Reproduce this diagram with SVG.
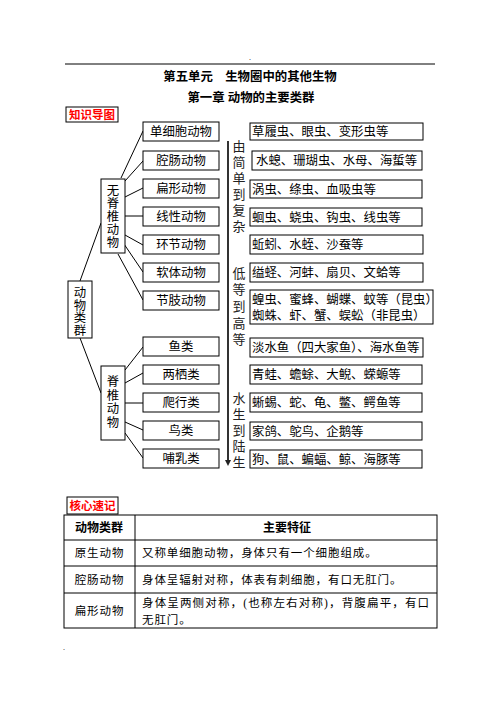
<svg xmlns="http://www.w3.org/2000/svg" width="501" height="711" viewBox="0 0 501 711">
<style>
text{font-family:"Liberation Serif","Noto Sans CJK SC",serif;fill:#000}
.t{font-size:12.4px}
.c{text-anchor:middle}
.b{font-weight:bold}
.red{fill:#f00;font-weight:bold;font-size:11.5px}
.v{font-size:13px;text-anchor:middle;fill:#222}
.tb{font-size:11.5px;letter-spacing:0.9px}
rect{fill:#fff;stroke:#000;stroke-width:1}
line{stroke:#000;stroke-width:1}
</style>
<defs>
<marker id="ah" markerWidth="8" markerHeight="8" refX="1" refY="3" orient="auto" markerUnits="userSpaceOnUse">
<path d="M0,0 L6,3 L0,6 Z" fill="#222"/>
</marker>
</defs>
<rect x="0" y="0" width="501" height="711" style="fill:#fff;stroke:none"/>
<text x="250" y="60" class="c" style="font-size:8px">.</text>
<line x1="65" y1="64" x2="435" y2="64"/>
<text x="250" y="81" class="t c b">第五单元　生物圈中的其他生物</text>
<text x="251" y="102" class="t c b">第一章 动物的主要类群</text>
<g id="zhishi"><rect x="66" y="107" width="52" height="15"/><text x="92" y="119" class="red c">知识导图</text></g>

<g id="connectors">
<line x1="121" y1="178" x2="143" y2="131"/>
<line x1="125" y1="181" x2="143" y2="161"/>
<line x1="125" y1="197" x2="143" y2="188"/>
<line x1="125" y1="216" x2="143" y2="216"/>
<line x1="125" y1="235" x2="143" y2="245"/>
<line x1="124" y1="244" x2="143" y2="272"/>
<line x1="118" y1="254" x2="143" y2="300"/>
<line x1="80" y1="281" x2="101" y2="223"/>
<line x1="80" y1="338" x2="101" y2="393"/>
<line x1="125" y1="370" x2="143" y2="347"/>
<line x1="125" y1="383" x2="143" y2="373"/>
<line x1="125" y1="403" x2="143" y2="403"/>
<line x1="125" y1="422" x2="143" y2="430"/>
<line x1="125" y1="433" x2="143" y2="458"/>
<line x1="228" y1="141" x2="228" y2="461" style="stroke:#333;stroke-width:2" marker-end="url(#ah)"/>
</g>

<g id="root"><rect x="68" y="281" width="24" height="57"/>
<text class="t c" x="80"><tspan x="80" y="297">动</tspan><tspan x="80" y="309.5">物</tspan><tspan x="80" y="322">类</tspan><tspan x="80" y="334.5">群</tspan></text></g>
<g id="wujizhui"><rect x="101" y="179" width="24" height="74"/>
<text class="t c"><tspan x="113" y="195">无</tspan><tspan x="113" y="208">脊</tspan><tspan x="113" y="221">椎</tspan><tspan x="113" y="234">动</tspan><tspan x="113" y="247">物</tspan></text></g>
<g id="jizhui"><rect x="101" y="366" width="24" height="74"/>
<text class="t c"><tspan x="113" y="386">脊</tspan><tspan x="113" y="399.5">椎</tspan><tspan x="113" y="413">动</tspan><tspan x="113" y="426.5">物</tspan></text></g>

<g id="n1"><rect x="143" y="122" width="76" height="19"/><text x="181" y="136" class="t c">单细胞动物</text></g>
<g id="n2"><rect x="143" y="151" width="76" height="19"/><text x="181" y="165" class="t c">腔肠动物</text></g>
<g id="n3"><rect x="143" y="179" width="76" height="19"/><text x="181" y="193" class="t c">扁形动物</text></g>
<g id="n4"><rect x="143" y="207" width="76" height="19"/><text x="181" y="221" class="t c">线性动物</text></g>
<g id="n5"><rect x="143" y="235" width="76" height="19"/><text x="181" y="249" class="t c">环节动物</text></g>
<g id="n6"><rect x="143" y="263" width="76" height="19"/><text x="181" y="277" class="t c">软体动物</text></g>
<g id="n7"><rect x="143" y="291" width="76" height="19"/><text x="181" y="305" class="t c">节肢动物</text></g>
<g id="n8"><rect x="143" y="337" width="76" height="19"/><text x="181" y="351" class="t c">鱼类</text></g>
<g id="n9"><rect x="143" y="365" width="76" height="19"/><text x="181" y="379" class="t c">两栖类</text></g>
<g id="n10"><rect x="143" y="393" width="76" height="19"/><text x="181" y="407" class="t c">爬行类</text></g>
<g id="n11"><rect x="143" y="421" width="76" height="19"/><text x="181" y="435" class="t c">鸟类</text></g>
<g id="n12"><rect x="143" y="449" width="76" height="19"/><text x="181" y="463" class="t c">哺乳类</text></g>

<g id="axis-labels">
<text class="v"><tspan x="239" y="151">由</tspan><tspan x="239" y="167">简</tspan><tspan x="239" y="183">单</tspan><tspan x="239" y="199">到</tspan><tspan x="239" y="215">复</tspan><tspan x="239" y="231">杂</tspan></text>
<text class="v"><tspan x="239" y="278">低</tspan><tspan x="239" y="294">等</tspan><tspan x="239" y="311">到</tspan><tspan x="239" y="328">高</tspan><tspan x="239" y="344">等</tspan></text>
<text class="v"><tspan x="239" y="403">水</tspan><tspan x="239" y="419">生</tspan><tspan x="239" y="435">到</tspan><tspan x="239" y="451">陆</tspan><tspan x="239" y="467">生</tspan></text>
</g>

<g id="r1"><rect x="250" y="123" width="173" height="17"/><text x="252" y="136" class="t">草履虫、眼虫、变形虫等</text></g>
<g id="r2"><rect x="252" y="151" width="170" height="19"/><text x="256" y="165" class="t">水螅、珊瑚虫、水母、海蜇等</text></g>
<g id="r3"><rect x="250" y="180" width="172" height="18"/><text x="252" y="193.5" class="t">涡虫、绦虫、血吸虫等</text></g>
<g id="r4"><rect x="250" y="208" width="172" height="18"/><text x="252" y="221.5" class="t">蛔虫、蛲虫、钩虫、线虫等</text></g>
<g id="r5"><rect x="250" y="235" width="173" height="19"/><text x="252" y="249" class="t">蚯蚓、水蛭、沙蚕等</text></g>
<g id="r6"><rect x="250" y="263" width="173" height="19"/><text x="252" y="277" class="t">缢蛏、河蚌、扇贝、文蛤等</text></g>
<g id="r7"><rect x="250" y="290" width="183" height="34"/><text x="252" y="304" class="t">蝗虫、蜜蜂、蝴蝶、蚊等（昆虫）</text><text x="252" y="320" class="t">蜘蛛、虾、蟹、蜈蚣（非昆虫）</text></g>
<g id="r8"><rect x="250" y="338" width="173" height="19"/><text x="252" y="352" class="t">淡水鱼（四大家鱼）、海水鱼等</text></g>
<g id="r9"><rect x="250" y="365" width="172" height="19"/><text x="252" y="379" class="t">青蛙、蟾蜍、大鲵、蝾螈等</text></g>
<g id="r10"><rect x="250" y="393" width="172" height="19"/><text x="252" y="407" class="t">蜥蜴、蛇、龟、鳖、鳄鱼等</text></g>
<g id="r11"><rect x="250" y="422" width="172" height="18"/><text x="252" y="435.5" class="t">家鸽、鸵鸟、企鹅等</text></g>
<g id="r12"><rect x="250" y="450" width="172" height="18"/><text x="252" y="463.5" class="t">狗、鼠、蝙蝠、鲸、海豚等</text></g>

<g id="hexin"><rect x="67" y="497" width="51" height="17"/><text x="92.5" y="510" class="red c">核心速记</text></g>
<g id="table">
<rect x="64" y="515" width="373" height="113"/>
<line x1="64" y1="540" x2="437" y2="540"/>
<line x1="64" y1="566" x2="437" y2="566"/>
<line x1="64" y1="593" x2="437" y2="593"/>
<line x1="135" y1="515" x2="135" y2="628"/>
<text x="99" y="532" class="c b" style="font-size:12px">动物类群</text>
<text x="287" y="532" class="c b" style="font-size:12px">主要特征</text>
<text x="99.5" y="557" class="tb c">原生动物</text>
<text x="142" y="557" class="tb">又称单细胞动物，身体只有一个细胞组成。</text>
<text x="99.5" y="584" class="tb c">腔肠动物</text>
<text x="142" y="584" class="tb">身体呈辐射对称，体表有刺细胞，有口无肛门。</text>
<text x="99.5" y="615" class="tb c">扁形动物</text>
<text x="142" y="607" class="tb" textLength="288" lengthAdjust="spacing">身体呈两侧对称，(也称左右对称)，背腹扁平，有口</text>
<text x="142" y="624" class="tb">无肛门。</text>
</g>
<text x="63" y="650" style="font-size:8px">.</text>
</svg>
